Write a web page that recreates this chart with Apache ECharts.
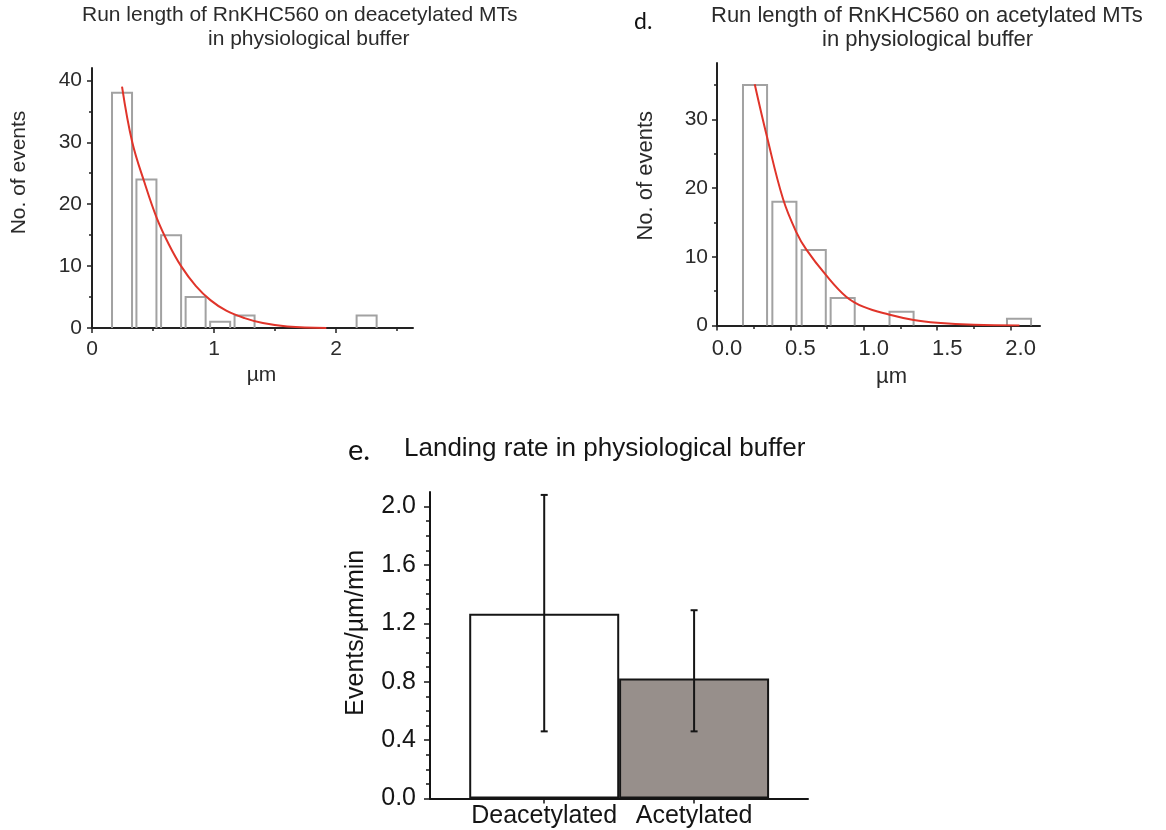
<!DOCTYPE html>
<html lang="en">
<head>
<meta charset="UTF-8">
<title>RnKHC560 run length and landing rate</title>
<script src="https://cdn.jsdelivr.net/npm/echarts@6/dist/echarts.min.js"></script>
<style>
  html, body { margin: 0; padding: 0; background: #fff; }
  #main { width: 1166px; height: 830px; }
</style>
</head>
<body>
<div id="main"></div>
<script>
// run length on deacetylated MTs: histogram bins (centre, um) and counts
var deacBinCenters = [0.246, 0.446, 0.648, 0.849, 1.05, 1.25, 2.25];
var deacCounts = [38, 24, 15, 5, 1, 2, 2];
// exponential fit, points
var deacFitX = [0.246, 0.33, 0.43, 0.53, 0.63, 0.73, 0.85, 0.97, 1.1, 1.25, 1.4, 1.6, 1.92];
var deacFitY = [39.0, 30.0, 23.5, 17.8, 13.5, 10.0, 6.8, 4.5, 2.8, 1.6, 0.8, 0.25, 0];

// run length on acetylated MTs
var acBinCenters = [0.259, 0.459, 0.659, 0.856, 1.257, 2.057];
var acCounts = [35, 18, 11, 4, 2, 1];
var acFitX = [0.257, 0.34, 0.45, 0.54, 0.61, 0.74, 0.88, 1.0, 1.17, 1.34, 1.5, 1.75, 2.06];
var acFitY = [35.1, 27.5, 18.4, 13.6, 11.0, 7.4, 4.2, 2.7, 1.6, 0.8, 0.4, 0.1, 0];

// landing rate
var rateCategories = ['Deacetylated', 'Acetylated'];
var rateMeans = [1.265, 0.823];
var rateLow = [0.46, 0.46];
var rateHigh = [2.08, 1.29];

// ticks
var deacXMajor = [0, 1, 2];
var deacXMinor = [0.5, 1.5, 2.5];
var deacYMajor = [0, 10, 20, 30, 40];
var deacYMinor = [5, 15, 25, 35];
var acXMajor = [0, 0.5, 1.0, 1.5, 2.0];
var acXMinor = [0.25, 0.75, 1.25, 1.75];
var acYMajor = [0, 10, 20, 30];
var acYMinor = [5, 15, 25, 35];
var rateYMajor = [0, 0.4, 0.8, 1.2, 1.6, 2.0];
var rateYMinor = [0.1, 0.2, 0.3, 0.5, 0.6, 0.7, 0.9, 1.0, 1.1, 1.3, 1.4, 1.5, 1.7, 1.8, 1.9];

var FONT = '"Liberation Sans", Arial, Helvetica, sans-serif';
var BIN_W = 0.164;

function pairs(xs, ys) {
    return xs.map(function (x, i) { return [x, ys[i]]; });
}

// main axis with line, major ticks and labels
function mainAxis(dim, grid, min, max, ticks, o) {
    var a = {
        type: 'value', gridIndex: grid, min: min, max: max,
        position: dim === 'x' ? 'bottom' : 'left',
        splitLine: { show: false },
        axisLine: { show: true, onZero: false, lineStyle: { color: o.lineColor, width: 2 } },
        axisTick: { show: true, customValues: ticks, length: o.tickLen || 5, lineStyle: { color: o.lineColor, width: 1.5 } },
        axisLabel: {
            show: true, customValues: ticks, color: o.textColor, fontFamily: FONT,
            fontSize: o.labelSize, margin: o.labelMargin, padding: o.labelPadding || 0,
            formatter: o.formatter
        },
        name: o.name, nameLocation: 'middle', nameGap: o.nameGap,
        nameTextStyle: { color: o.textColor, fontFamily: FONT, fontSize: o.nameSize, padding: o.namePadding || 0 }
    };
    return a;
}

// overlay axis carrying only the short minor ticks
function minorAxis(dim, grid, min, max, ticks, color, len) {
    return {
        type: 'value', gridIndex: grid, min: min, max: max,
        position: dim === 'x' ? 'bottom' : 'left',
        splitLine: { show: false },
        axisLine: { show: false, onZero: false },
        axisLabel: { show: false },
        axisTick: { show: true, customValues: ticks, length: len, lineStyle: { color: color, width: 1.5 } }
    };
}

function histSeries(xi, yi, centers, counts) {
    return {
        type: 'custom', xAxisIndex: xi, yAxisIndex: yi, silent: true, z: 3,
        data: pairs(centers, counts),
        renderItem: function (params, api) {
            var c = api.value(0), n = api.value(1);
            var lt = api.coord([c - BIN_W / 2, n]);
            var rb = api.coord([c + BIN_W / 2, 0]);
            return {
                type: 'polyline',
                shape: { points: [[lt[0], rb[1]], [lt[0], lt[1]], [rb[0], lt[1]], [rb[0], rb[1]]] },
                style: { fill: null, stroke: '#a2a2a2', lineWidth: 2 }
            };
        }
    };
}

function fitSeries(xi, yi, xs, ys) {
    return {
        type: 'line', xAxisIndex: xi, yAxisIndex: yi, z: 4,
        data: pairs(xs, ys), smooth: 0.4, showSymbol: false, silent: true,
        lineStyle: { color: '#e0342a', width: 2 }
    };
}

var deacTxt = '#2b2b2b';
var rateCol = '#151515';

var chart = echarts.init(document.getElementById('main'));
chart.setOption({
    animation: false,
    backgroundColor: '#fff',
    title: [
        { text: 'Run length of RnKHC560 on deacetylated MTs', left: 82, top: 5, padding: 0,
          textStyle: { fontFamily: FONT, fontSize: 21, fontWeight: 'normal', color: deacTxt } },
        { text: 'in physiological buffer', left: 208, top: 29, padding: 0,
          textStyle: { fontFamily: FONT, fontSize: 21, fontWeight: 'normal', color: deacTxt } },
        { text: 'd.', left: 634, top: 10, padding: 0,
          textStyle: { fontFamily: 'Lato, "Open Sans", sans-serif', fontSize: 23, fontWeight: 'normal', color: '#111' } },
        { text: 'Run length of RnKHC560 on acetylated MTs', left: 711, top: 5, padding: 0,
          textStyle: { fontFamily: FONT, fontSize: 22, fontWeight: 'normal', color: deacTxt } },
        { text: 'in physiological buffer', left: 822, top: 29, padding: 0,
          textStyle: { fontFamily: FONT, fontSize: 22, fontWeight: 'normal', color: deacTxt } },
        { text: 'e.', left: 348, top: 436, padding: 0,
          textStyle: { fontFamily: 'Lato, "Open Sans", sans-serif', fontSize: 29, fontWeight: 'normal', color: '#111' } },
        { text: 'Landing rate in physiological buffer', left: 404, top: 436, padding: 0,
          textStyle: { fontFamily: FONT, fontSize: 26, fontWeight: 'normal', color: rateCol } }
    ],
    grid: [
        { left: 92, top: 68, width: 321, height: 260 },
        { left: 717, top: 63, width: 323, height: 262.5 },
        { left: 430, top: 492, width: 378, height: 306.5 }
    ],
    xAxis: [
        mainAxis('x', 0, 0, 2.63, deacXMajor, {
            lineColor: '#222', textColor: deacTxt, labelSize: 21, labelMargin: 11,
            name: 'µm', nameGap: 37, nameSize: 21, namePadding: [0, 0, 0, 18]
        }),
        minorAxis('x', 0, 0, 2.63, deacXMinor, '#222', 3),
        mainAxis('x', 1, 0, 2.2, acXMajor, {
            lineColor: '#222', textColor: deacTxt, labelSize: 22, labelMargin: 12,
            labelPadding: [0, 0, 0, 20],
            formatter: function (v) { return v.toFixed(1); },
            name: 'µm', nameGap: 40, nameSize: 22, namePadding: [0, 0, 0, 26]
        }),
        minorAxis('x', 1, 0, 2.2, acXMinor, '#222', 3.5),
        mainAxis('x', 2, 0.238, 2.76, [1, 2], {
            lineColor: rateCol, textColor: rateCol, labelSize: 25, labelMargin: 5,
            formatter: function (v) { return rateCategories[Math.round(v) - 1]; }
        })
    ],
    yAxis: [
        mainAxis('y', 0, 0, 42, deacYMajor, {
            lineColor: '#222', textColor: deacTxt, labelSize: 21, labelMargin: 10,
            name: 'No. of events', nameGap: 62, nameSize: 21, namePadding: [0, 0, 0, 51]
        }),
        minorAxis('y', 0, 0, 42, deacYMinor, '#222', 3),
        mainAxis('y', 1, 0, 38.2, acYMajor, {
            lineColor: '#222', textColor: deacTxt, labelSize: 21, labelMargin: 9,
            name: 'No. of events', nameGap: 60, nameSize: 22, namePadding: [0, 0, 0, 37]
        }),
        minorAxis('y', 1, 0, 38.2, acYMinor, '#222', 3),
        mainAxis('y', 2, 0, 2.1, rateYMajor, {
            lineColor: rateCol, textColor: rateCol, labelSize: 25, labelMargin: 14, tickLen: 6,
            formatter: function (v) { return v.toFixed(1); },
            name: 'Events/µm/min', nameGap: 61, nameSize: 25, namePadding: [0, 0, 0, 25]
        }),
        minorAxis('y', 2, 0, 2.1, rateYMinor, rateCol, 4)
    ],
    series: [
        histSeries(0, 0, deacBinCenters, deacCounts),
        fitSeries(0, 0, deacFitX, deacFitY),
        histSeries(2, 2, acBinCenters, acCounts),
        fitSeries(2, 2, acFitX, acFitY),
        {
            type: 'bar', xAxisIndex: 4, yAxisIndex: 4, barWidth: 150, silent: true,
            data: rateMeans.map(function (m, i) {
                return { value: [i + 1, m], itemStyle: { color: i === 0 ? '#ffffff' : '#978f8b' } };
            }),
            itemStyle: { borderColor: rateCol, borderWidth: 2 }
        },
        {
            type: 'custom', xAxisIndex: 4, yAxisIndex: 4, silent: true, z: 5,
            data: rateMeans.map(function (m, i) { return [i + 1, rateLow[i], rateHigh[i]]; }),
            renderItem: function (params, api) {
                var x = api.value(0);
                var top = api.coord([x, api.value(2)]);
                var bot = api.coord([x, api.value(1)]);
                var st = { stroke: rateCol, lineWidth: 2 };
                return {
                    type: 'group',
                    children: [
                        { type: 'line', shape: { x1: top[0], y1: top[1], x2: bot[0], y2: bot[1] }, style: st },
                        { type: 'line', shape: { x1: top[0] - 3.5, y1: top[1], x2: top[0] + 3.5, y2: top[1] }, style: st },
                        { type: 'line', shape: { x1: bot[0] - 3.5, y1: bot[1], x2: bot[0] + 3.5, y2: bot[1] }, style: st }
                    ]
                };
            }
        }
    ]
});
</script>
</body>
</html>
